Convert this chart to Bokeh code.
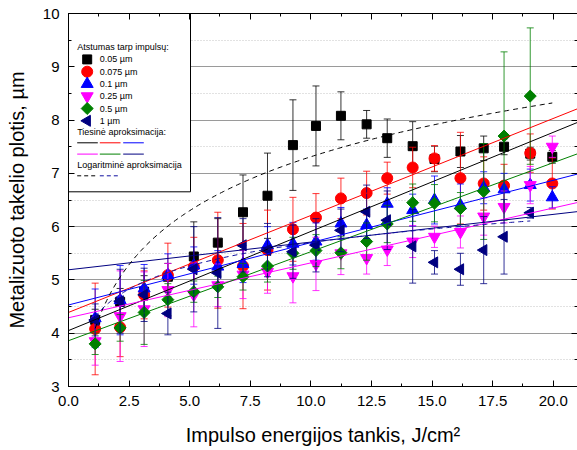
import numpy as np
from bokeh.plotting import figure
from bokeh.models import (Range1d, LinearAxis, SingleIntervalTicker, PrintfTickFormatter, Label)
from bokeh.embed import file_html
from bokeh.resources import INLINE

# ---------------- data ----------------
energy = [1.1, 2.13, 3.12, 4.1, 5.17, 6.16, 7.2, 8.21, 9.26, 10.21,
          11.24, 12.3, 13.15, 14.2, 15.1, 16.17, 17.13, 17.97, 19.05, 19.96]

w_005 = [4.25, 4.59, 4.78, 5.06, 5.44, 5.70, 6.27, 6.58, 7.53, 7.89,
         8.08, 7.92, 7.66, 7.51, 7.27, 7.41, 7.47, 7.50, 7.37, 7.31]
e_005 = [0.2, 0.25, 0.3, 0.25, 0.65, 0.45, 0.7, 0.8, 0.85, 0.75,
         0.45, 0.26, 0.36, 0.46, 0.24, 0.3, 0.23, 0.15, 0.12, 0.12]

w_0075 = [4.08, 4.11, 4.72, 5.09, 5.25, 5.37, 5.26, 5.56, 5.95, 6.17,
          6.53, 6.63, 6.91, 7.11, 7.28, 6.91, 6.81, 6.77, 7.38, 6.81]
e_0075 = [0.86, 0.55, 0.45, 0.6, 0.55, 0.9, 0.8, 0.75, 0.6, 0.45,
          0.38, 0.41, 0.3, 0.38, 0.24, 0.86, 0.5, 0.4, 0.36, 0.48]

w_01 = [4.28, 4.62, 4.84, 5.09, 5.27, 5.25, 5.3, 5.65, 5.68, 5.72,
        6.06, 6.03, 6.43, 6.31, 6.5, 6.4, 6.73, 6.7, 6.78, 6.55]
e_01 = [0.55, 0.65, 0.45, 0.4, 0.35, 0.3, 0.35, 0.35, 0.4, 0.35,
        0.3, 0.3, 0.3, 0.3, 0.45, 0.4, 0.3, 0.3, 0.3, 0.2]

w_025 = [3.85, 4.32, 4.45, 4.81, 4.72, 4.9, 5.1, 5.15, 5.07, 5.3,
         5.5, 5.41, 5.57, 5.72, 5.81, 5.9, 6.19, 6.37, 6.78, 7.5]
e_025 = [0.45, 0.85, 0.7, 0.5, 0.6, 0.4, 0.45, 0.4, 0.5, 0.5,
         0.4, 0.3, 0.3, 0.3, 0.2, 0.3, 0.35, 0.3, 0.35, 0.2]

w_05 = [3.8, 4.1, 4.39, 4.63, 4.78, 4.87, 5.06, 5.26, 5.5, 5.55,
        5.51, 5.72, 6.05, 6.45, 6.44, 6.34, 6.66, 7.7, 8.45]
e_05 = [0.2, 0.25, 0.6, 0.3, 0.2, 0.2, 0.25, 0.3, 0.3, 0.3,
        0.3, 0.35, 0.35, 0.35, 0.35, 0.3, 0.9, 1.58, 1.28]

w_1 = [4.25, 4.6, 4.72, 4.37, 5.2, 5.13, 5.65, 5.56, 5.53, 5.65,
       5.93, 6.28, 6.12, 5.63, 5.33, 5.2, 5.56, 5.81, 6.26]
e_1 = [0.3, 0.6, 0.5, 0.4, 0.8, 1.04, 0.5, 0.5, 0.5, 0.5,
       0.4, 0.5, 0.55, 0.69, 0.22, 0.3, 0.63, 0.7, 0.1]

labels = ["0.05 µm", "0.075 µm", "0.1 µm", "0.25 µm", "0.5 µm", "1 µm"]
widths = [w_005, w_0075, w_01, w_025, w_05, w_1]
errors = [e_005, e_0075, e_01, e_025, e_05, e_1]

# linear fits (intercept, slope)
lin_intercept = [4.05, 4.39, 4.53, 4.29, 3.86, 5.19]
lin_slope = [0.186, 0.182, 0.117, 0.103, 0.167, 0.052]

# logarithmic fits y = a + b*ln(x) for 0.05 µm and 1 µm
log_a = [3.95, 4.25]
log_b = [1.46, 0.63]

legend_title = "Atstumas tarp impulsų:"
linear_title = "Tiesinė aproksimacija:"
log_title = "Logaritminė aproksimacija"

X_MIN, X_MAX = 0, 21
Y_MIN, Y_MAX = 3, 10

# ---------------- style ----------------
colors = ["#000000", "#ff0000", "#0000ff", "#ff00ff", "#008000", "#000080"]
log_colors = ["#000000", "#1010a0"]
markers = ["square", "circle", "triangle", "inverted_triangle", "square", "triangle"]
msizes = [9, 11, 12, 12, 8.5, 11]
angles = [0, 0, 0, 0, np.pi / 4, np.pi / 2]
FONT = "Liberation Sans"
FRAME_W, FRAME_H = 509, 373

p = figure(frame_width=FRAME_W, frame_height=FRAME_H,
           x_range=Range1d(X_MIN, X_MAX), y_range=Range1d(Y_MIN, Y_MAX),
           output_backend="svg", toolbar_location=None,
           min_border_left=68, min_border_right=0, min_border_top=13, min_border_bottom=64)
p.background_fill_color = "white"
p.outline_line_color = None

xticker = SingleIntervalTicker(interval=2.5, num_minor_ticks=2)
yticker = SingleIntervalTicker(interval=1, num_minor_ticks=2)

xa = p.xaxis[0]
xa.ticker = xticker
xa.formatter = PrintfTickFormatter(format="%.1f")
xa.axis_label = "Impulso energijos tankis, J/cm²"
ya = p.yaxis[0]
ya.ticker = yticker
ya.axis_label = "Metalizuoto takelio plotis, µm"
for ax in (xa, ya):
    ax.major_label_text_font = FONT
    ax.major_label_text_font_size = "15px"
    ax.major_label_text_color = "black"
    ax.axis_label_text_font = FONT
    ax.axis_label_text_font_size = "20px"
    ax.axis_label_text_font_style = "normal"
    ax.axis_label_text_color = "black"
    ax.major_tick_in = 6
    ax.major_tick_out = 0
    ax.minor_tick_in = 3
    ax.minor_tick_out = 0
    ax.axis_line_color = "black"
    ax.major_tick_line_color = "black"
    ax.minor_tick_line_color = "black"
    ax.major_label_standoff = 9
xa.axis_label_standoff = 15
ya.axis_label_standoff = 12

for place, tk in (("above", xticker), ("right", yticker)):
    ax = LinearAxis(ticker=tk, major_label_text_font_size="1px", major_label_text_color=None,
                    major_label_standoff=0,
                    major_tick_in=6, major_tick_out=0, minor_tick_in=3, minor_tick_out=0,
                    axis_line_color="black")
    p.add_layout(ax, place)

p.xgrid.visible = False
p.ygrid.ticker = yticker
p.ygrid.grid_line_color = "#9a9a9a"
p.ygrid.grid_line_width = 1
p.ygrid.minor_grid_line_color = "#c4c4c4"
p.ygrid.minor_grid_line_dash = "1 2"

# ---------------- data marks ----------------
for yv, ev, col, mk, ms, ang in zip(widths, errors, colors, markers, msizes, angles):
    xs = np.array(energy[:len(yv)])
    y = np.array(yv)
    e = np.array(ev)
    lo, hi = y - e, y + e
    p.segment(x0=xs, y0=lo, x1=xs, y1=hi, line_color=col, line_alpha=0.8, line_width=1)
    p.scatter(x=xs, y=hi, marker="dash", size=7, line_color=col, line_alpha=0.8, line_width=1)
    p.scatter(x=xs, y=lo, marker="dash", size=7, line_color=col, line_alpha=0.8, line_width=1)
    p.scatter(x=xs, y=y, marker=mk, size=ms, angle=ang, fill_color=col, line_color=col)

for a, b, col in zip(lin_intercept, lin_slope, colors):
    xl = np.array([X_MIN, X_MAX], dtype=float)
    p.line(xl, a + b * xl, line_color=col, line_width=1)

log_ranges = [(energy[0], energy[-1]), (energy[0], energy[len(w_1) - 1])]
for a, b, col, (x0, x1) in zip(log_a, log_b, log_colors, log_ranges):
    xl = np.linspace(x0, x1, 200)
    p.line(xl, a + b * np.log(xl), line_color=col, line_width=1, line_dash="5 4")

# ---------------- legend (drawn in frame pixel positions) ----------------
def sx2x(sx):
    return X_MIN + sx * (X_MAX - X_MIN) / FRAME_W


def sy2y(sy):
    return Y_MAX - sy * (Y_MAX - Y_MIN) / FRAME_H


# legend box (pixels from frame top-left)
p.quad(left=sx2x(0), right=sx2x(122), top=sy2y(-1), bottom=sy2y(178.3),
       fill_color="white", line_color="black", line_width=1)

item_y0, item_step = 45.9, 12.28
for i, (col, mk, ms, ang) in enumerate(zip(colors, markers, msizes, angles)):
    p.scatter(x=[sx2x(18.7)], y=[sy2y(item_y0 + i * item_step)], marker=mk, size=ms,
              angle=ang, fill_color=col, line_color=col)
    p.add_layout(Label(x=31.3, y=FRAME_H - (item_y0 + i * item_step), x_units="screen",
                       y_units="screen", text=labels[i], text_font=FONT, text_font_size="9px",
                       text_baseline="middle", text_color="black"))

col_x = [(8.7, 29.3), (31.3, 52.0), (54.7, 75.3)]
row_y = [129.3, 140.6]
for i, col in enumerate(colors):
    x0, x1 = col_x[i % 3]
    yy = sy2y(row_y[i // 3])
    p.line([sx2x(x0), sx2x(x1)], [yy, yy], line_color=col, line_width=1)

for i, col in enumerate(log_colors):
    x0, x1 = col_x[i]
    yy = sy2y(162.3)
    p.line([sx2x(x0), sx2x(x1)], [yy, yy], line_color=col, line_width=1, line_dash="4 3")

for txt, sy in ((legend_title, 33.3), (linear_title, 118.9), (log_title, 151.6)):
    p.add_layout(Label(x=8.7, y=FRAME_H - sy, x_units="screen", y_units="screen", text=txt,
                       text_font=FONT, text_font_size="9px", text_baseline="middle",
                       text_color="black"))

open("out.html", "w").write(file_html(p, INLINE))
